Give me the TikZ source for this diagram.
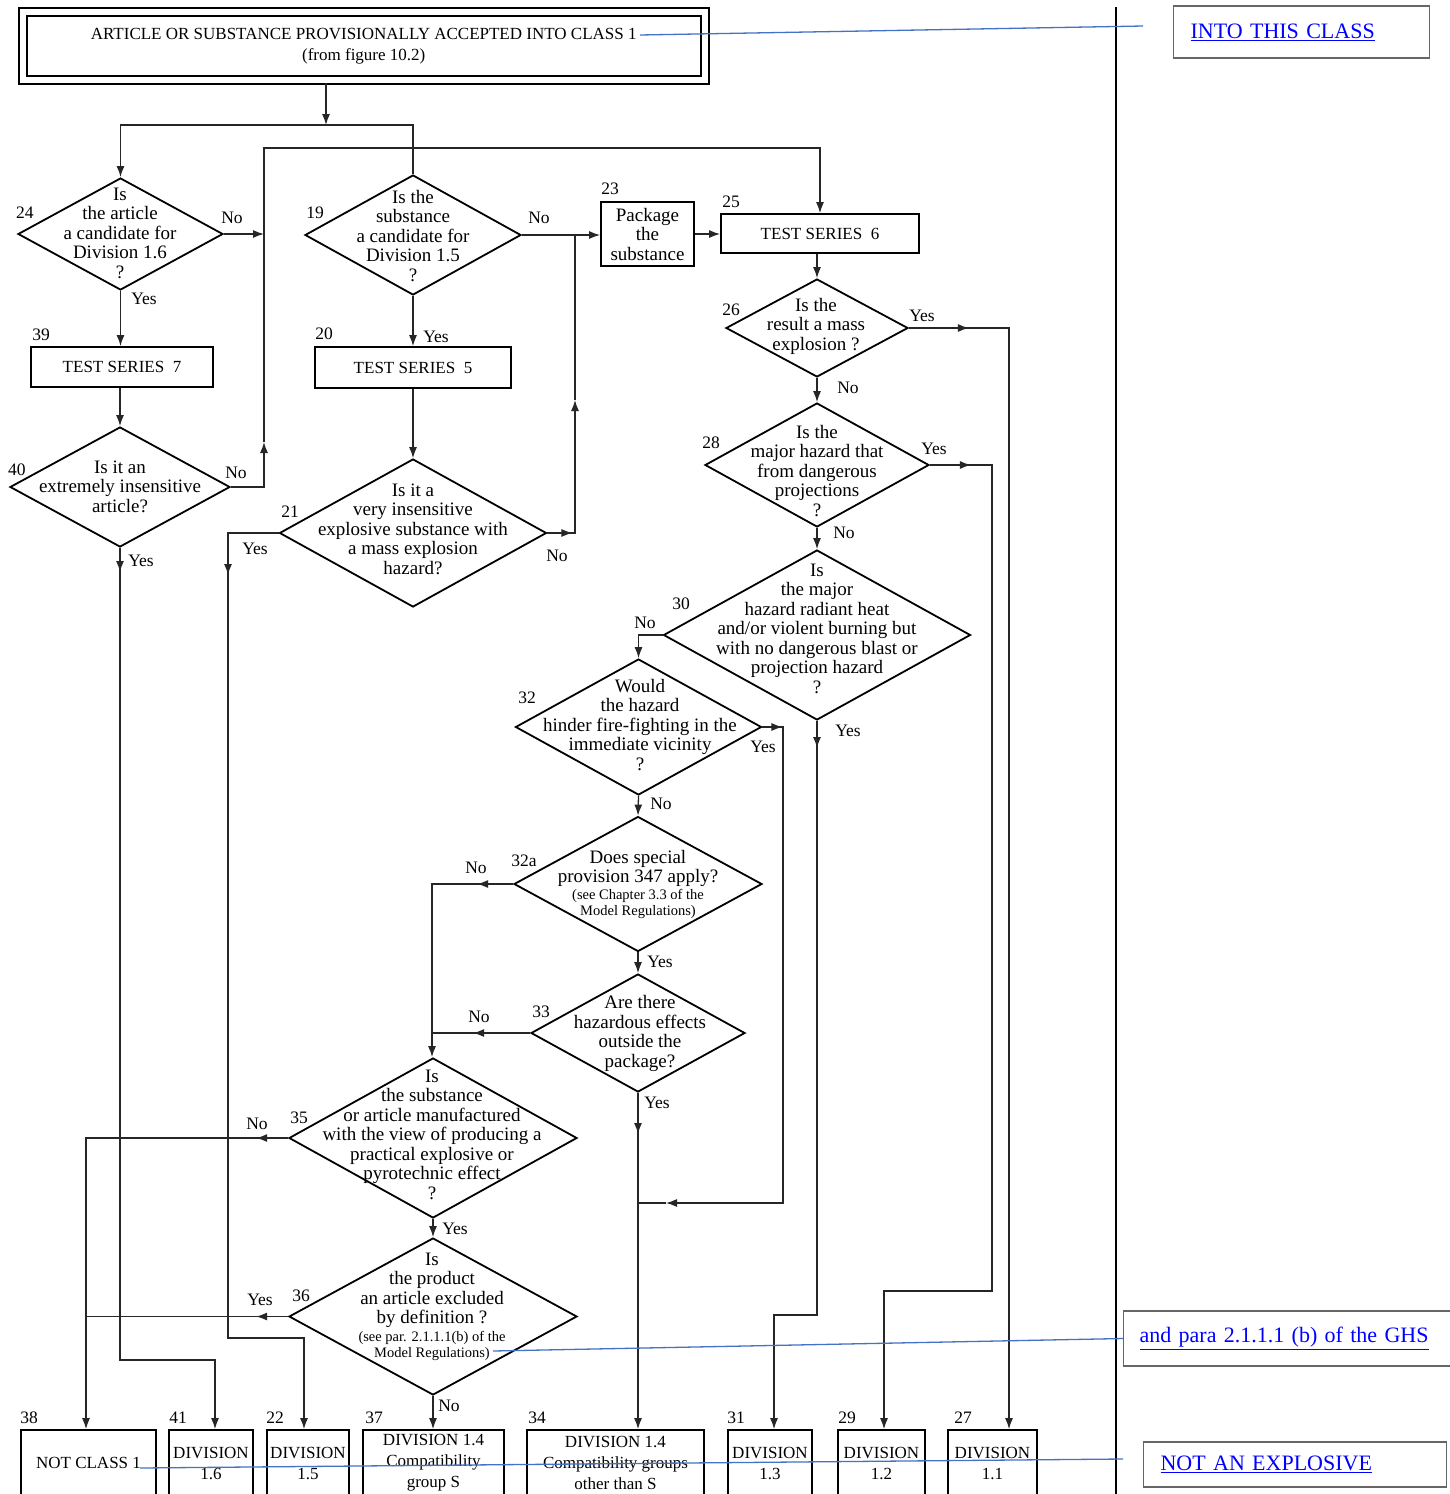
\documentclass[tikz,border=0pt]{standalone}
\usepackage{fontspec}
\setmainfont{Liberation Serif}
\usetikzlibrary{shapes.geometric,arrows.meta}
\definecolor{cmtblue}{RGB}{68,114,196}
\definecolor{linkblue}{RGB}{0,0,255}
\newcommand{\qfont}{\fontsize{19}{19.5}\selectfont}
\newcommand{\capfont}{\fontsize{17}{21}\selectfont}
\newcommand{\tagfont}{\fontsize{17.5}{19}\selectfont}
\newcommand{\notefont}{\fontsize{14.5}{17}\selectfont}
\newcommand{\linkfont}{\fontsize{22}{26}\selectfont}

\begin{document}
\begin{tikzpicture}[x=1pt,y=-1pt,>={Latex[length=11pt,width=8pt]},
  qdia/.style={draw,diamond,line width=1.8pt,inner sep=0pt},
  qtext/.style={align=center,font=\qfont,inner sep=0pt},
  stepbox/.style={draw,line width=1.8pt,inner sep=0pt,align=center,font=\capfont},
  flow/.style={line width=1.3pt,draw=black!85},
  tag/.style={font=\tagfont,inner sep=0pt},
  cmt/.style={draw=cmtblue,line width=1.3pt},
  cmtbox/.style={draw=black!60,line width=1.2pt,inner xsep=17pt,inner ysep=0pt,
    align=left,font=\linkfont,text=linkblue,anchor=west}]

\fill[white] (0,0) rectangle (1449,1494);
\useasboundingbox (0,0) rectangle (1449,1494);

% header
\node[stepbox,double,double distance=6pt,line width=2pt,minimum width=681.5pt,minimum height=68pt]
  (hdr) at (363.75,46) {ARTICLE OR SUBSTANCE PROVISIONALLY ACCEPTED INTO CLASS 1\\(from figure 10.2)};

% questions
\node[qdia,minimum width=205pt,minimum height=112pt] (d24) at (120.5,234) {};
\node[qtext] (t24) at (120,233) {Is\\the article\\a candidate for\\Division 1.6\\?};
\node[qdia,minimum width=216pt,minimum height=120pt] (d19) at (413,235) {};
\node[qtext] (t19) at (413,236) {Is the\\substance\\a candidate for\\Division 1.5\\?};
\node[qdia,minimum width=220pt,minimum height=120pt] (d40) at (120,487) {};
\node[qtext] (t40) at (120,486.5) {Is it an\\extremely insensitive\\article?};
\node[qdia,minimum width=267pt,minimum height=148pt] (d21) at (413,533) {};
\node[qtext] (t21) at (413,529) {Is it a\\very insensitive\\explosive substance with\\a mass explosion\\hazard?};
\node[qdia,minimum width=182pt,minimum height=98pt] (d26) at (817,328) {};
\node[qtext] (t26) at (816,326) {Is the\\result a mass\\explosion ?};
\node[qdia,minimum width=224pt,minimum height=124pt] (d28) at (817,465) {};
\node[qtext] (t28) at (817,471) {Is the\\major hazard that\\from dangerous\\projections\\?};
\node[qdia,minimum width=307pt,minimum height=170pt] (d30) at (817,635) {};
\node[qtext] (t30) at (817,628.5) {Is\\the major\\hazard radiant heat\\and/or violent burning but\\with no dangerous blast or\\projection hazard\\?};
\node[qdia,minimum width=246pt,minimum height=136pt] (d32) at (638.5,727) {};
\node[qtext] (t32) at (640,725) {Would\\the hazard\\hinder fire-fighting in the\\immediate vicinity\\?};
\node[qdia,minimum width=248pt,minimum height=135pt] (d32a) at (638,884) {};
\node[qtext] (t32a) at (638,884.5) {Does special\\provision 347 apply?\\[-3pt]{\notefont (see Chapter 3.3 of the}\\[-3pt]{\notefont Model Regulations)}};
\node[qdia,minimum width=214pt,minimum height=118pt] (d33) at (638,1033) {};
\node[qtext] (t33) at (640,1033.5) {Are there\\hazardous effects\\outside the\\package?};
\node[qdia,minimum width=288pt,minimum height=160pt] (d35) at (433,1138) {};
\node[qtext] (t35) at (432,1134.5) {Is\\the substance\\or article manufactured\\with the view of producing a\\practical explosive or\\pyrotechnic effect\\?};
\node[qdia,minimum width=288pt,minimum height=157pt] (d36) at (433,1316.5) {};
\node[qtext] (t36) at (432,1307) {Is\\the product\\an article excluded\\by definition ?\\[-2pt]{\notefont (see par. 2.1.1.1(b) of the}\\[-3pt]{\notefont Model Regulations)}};

% test series and package
\node[stepbox,minimum width=182pt,minimum height=40pt] (ts7) at (122,367) {TEST SERIES\enspace 7};
\node[stepbox,minimum width=196pt,minimum height=41pt] (ts5) at (413,367.5) {TEST SERIES\enspace 5};
\node[stepbox,minimum width=198pt,minimum height=39pt] (ts6) at (820,233.5) {TEST SERIES\enspace 6};
\node[stepbox,font=\qfont,minimum width=93pt,minimum height=64pt] (pkg) at (647.5,234) {Package\\the\\substance};

% results
\node[stepbox,minimum width=135pt,minimum height=66pt] (nc1) at (88.5,1463) {NOT CLASS 1};
\node[stepbox,minimum width=84pt,minimum height=66pt] (dv16) at (211,1463) {DIVISION\\1.6};
\node[stepbox,minimum width=82pt,minimum height=66pt] (dv15) at (308,1463) {DIVISION\\1.5};
\node[stepbox,minimum width=141pt,minimum height=66pt] (dv14s) at (433.5,1463) {DIVISION 1.4\\Compatibility\\group S};
\node[stepbox,minimum width=177pt,minimum height=66pt] (dv14o) at (615.5,1463) {DIVISION 1.4\\Compatibility groups\\other than S};
\node[stepbox,minimum width=84pt,minimum height=66pt] (dv13) at (770,1463) {DIVISION\\1.3};
\node[stepbox,minimum width=87pt,minimum height=66pt] (dv12) at (881.5,1463) {DIVISION\\1.2};
\node[stepbox,minimum width=89pt,minimum height=66pt] (dv11) at (992.5,1463) {DIVISION\\1.1};

% box numbers
\foreach \x/\y/\t in {25/213/24, 315/213/19, 610/189/23, 731/202/25, 41/335/39, 324/334/20,
    17/470/40, 290/512/21, 731/310/26, 711/443/28, 681/604/30, 527/698/32, 524/861/32a,
    541/1012/33, 299/1118/35, 301/1296/36, 29/1418/38, 178/1418/41, 275/1418/22,
    374/1418/37, 537/1418/34, 736/1418/31, 847/1418/29, 963/1418/27}
  \node[tag] (n\t) at (\x,\y) {\t};

% answers
\foreach \x/\y/\t [count=\i] in {232/218/No, 144/299/Yes, 539/218/No, 436/337/Yes,
    236/473/No, 141/561/Yes, 255/549/Yes, 557/556/No, 922/316/Yes, 848/388/No,
    934/449/Yes, 844/533/No, 645/623/No, 848/731/Yes, 763/747/Yes, 661/804/No,
    476/868/No, 660/962/Yes, 479/1017/No, 657/1103/Yes, 257/1124/No, 455/1229/Yes,
    260/1300/Yes, 449/1406/No}
  \node[tag] (yn\i) at (\x,\y) {\t};

% start
\coordinate (hdrfoot) at (326,83);
\coordinate (split) at (326,125);
\draw[flow,->] (hdrfoot) -- (split);
\draw[flow,->] (split) -| (d24.north);
\draw[flow] (split) -| (d19.north);

% return line to test series 6
\coordinate (ret) at (264,148);
\coordinate (retup) at (264,442);
\draw[flow,->] (d40.east) -| (retup);
\draw[flow,->] (retup) -- (ret) -| (ts6.north);
\draw[flow,->] (d24.east) -- (d24.east -| ret);

% division 1.6 branch
\draw[flow,->] (d24.south) -- (d24.south |- ts7.north);
\draw[flow,->] (d40.north |- ts7.south) -- (d40.north);
\coordinate (a16) at (120,572);
\coordinate (c16) at (215,1360);
\draw[flow,->] (d40.south) -- (a16);
\draw[flow,->] (d40.south) |- (c16) -- (c16 |- dv16.north);

% division 1.5 branch
\draw[flow,->] (d19.south) -- (ts5.north);
\draw[flow,->] (ts5.south) -- (d21.north);
\coordinate (a15) at (228,575);
\coordinate (c15) at (228,1338);
\coordinate (c15b) at (304,1338);
\draw[flow,->] (d21.west) -| (a15);
\draw[flow,->] (d21.west) -| (c15) -- (c15b) -- (c15b |- dv15.north);
\coordinate (up5) at (575,400);
\draw[flow,->] (d21.east) -- ++(25,0);
\draw[flow,->] (d21.east) -| (up5);
\draw[flow] (up5) -- (up5 |- d19.east);

% test series 6
\draw[flow,->] (d19.east) -- (d19.east -| pkg.west);
\draw[flow,->] (pkg.east) -- (pkg.east -| ts6.west);
\draw[flow,->] (ts6.south -| d26.north) -- (d26.north);

% divisions 1.1 to 1.3
\coordinate (c11) at (1009,328);
\draw[flow,->] (d26.east) -- ++(60,0);
\draw[flow,->] (d26.east) -- (c11) -- (c11 |- dv11.north);
\draw[flow,->] (d26.south) -- (d28.north);
\coordinate (c12) at (992,1291);
\coordinate (c12b) at (884,1291);
\draw[flow,->] (d28.east) -- ++(41,0);
\draw[flow,->] (d28.east) -| (c12) -- (c12b) -- (c12b |- dv12.north);
\draw[flow,->] (d28.south) -- (d30.north);
\coordinate (a13) at (817,748);
\coordinate (c13) at (817,1315);
\coordinate (c13b) at (774,1315);
\draw[flow,->] (d30.south) -- (a13);
\draw[flow,->] (d30.south) -- (c13) -- (c13b) -- (c13b |- dv13.north);
\draw[flow,->] (d30.west) -| (d32.north);

% division 1.4
\coordinate (c14) at (783,1203);
\coordinate (a14) at (666,1203);
\draw[flow,->] (d32.east) -- ++(20,0);
\draw[flow,->] (d32.east) -| (c14) -- (a14);
\draw[flow] (a14) -- (a14 -| d33.south);
\draw[flow,->] (d32.south) -- (d32a.north);
\coordinate (c35) at (432,884);
\draw[flow,->] (d32a.west) -- ++(-36,0);
\draw[flow,->] (d32a.west) -- (c35) -- (c35 |- d35.north);
\draw[flow,->] (d32a.south) -- (d33.north);
\draw[flow,->] (d33.west) -- ++(-57,0);
\draw[flow] (d33.west) -- (d33.west -| c35);
\coordinate (a34) at (638,1134);
\draw[flow,->] (d33.south) -- (a34);
\draw[flow,->] (d33.south) -- (d33.south |- dv14o.north);

% not class 1
\coordinate (c38) at (86,1138);
\draw[flow,->] (d35.west) -- ++(-32,0);
\draw[flow,->] (d35.west) -- (c38) -- (c38 |- nc1.north);
\draw[flow,->] (d35.south) -- (d36.north);
\draw[flow,->] (d36.west) -- ++(-32,0);
\draw[flow] (d36.west) -- (d36.west -| c38);
\draw[flow,->] (d36.south) -- (d36.south |- dv14s.north);

% margin and comments
\coordinate (sepT) at (1116,7);
\coordinate (sepB) at (1116,1494);
\draw[line width=2pt] (sepT) -- (sepB);
\node[cmtbox,text width=222pt,minimum height=52pt] (into) at (1173,32) {\underline{INTO THIS CLASS}};
\node[cmtbox,inner xsep=16pt,text width=300pt,minimum height=55pt] (para) at (1123,1338.5) {\underline{and para 2.1.1.1 (b) of the GHS}};
\node[cmtbox,text width=269pt,minimum height=45pt] (notexp) at (1143,1464.5) {\underline{NOT AN EXPLOSIVE}};
\coordinate (k1a) at (640,35);
\coordinate (k1b) at (1143,26);
\coordinate (k2a) at (493,1351);
\coordinate (k3a) at (140,1468);
\coordinate (k3b) at (1123,1459);
\draw[cmt] (k1a) -- (k1b);
\draw[cmt] (k2a) -- (para.west);
\draw[cmt] (k3a) -- (k3b);
\end{tikzpicture}
\end{document}
